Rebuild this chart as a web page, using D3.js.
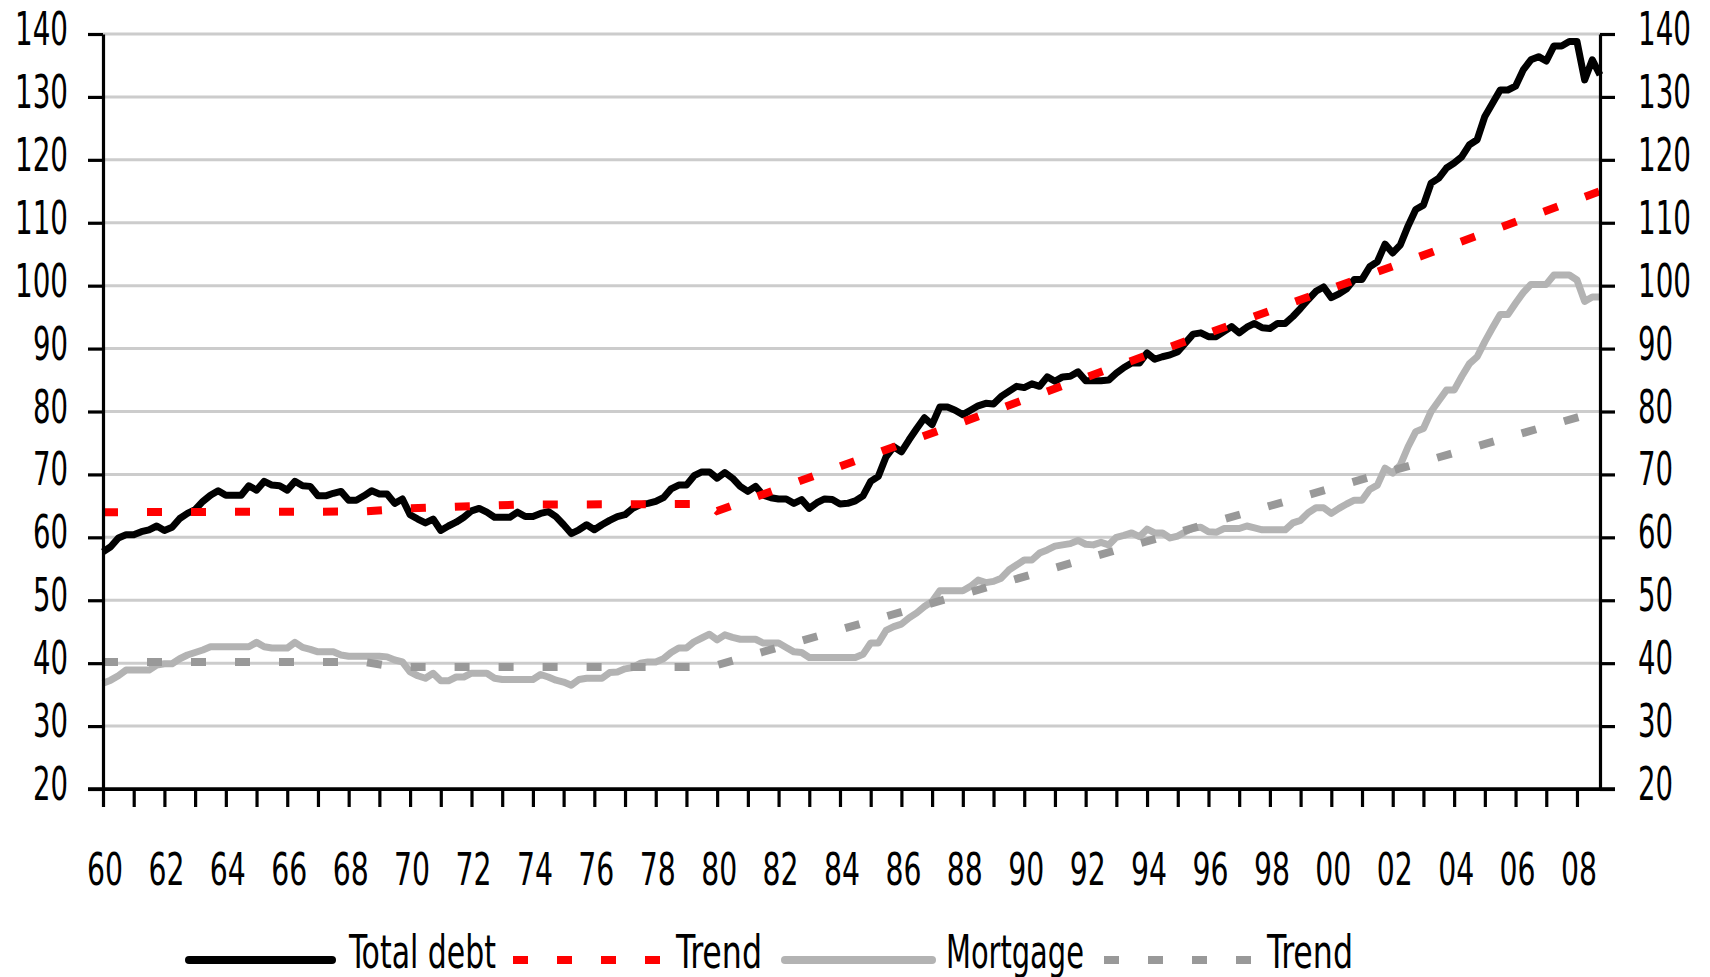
<!DOCTYPE html>
<html>
<head>
<meta charset="utf-8">
<script src="https://cdn.jsdelivr.net/npm/d3@7"></script>
<style>
  body { margin: 0; background: #fff; }
  text { font-family: "Liberation Sans Narrow", "Arial Narrow", "DejaVu Sans Condensed", sans-serif; fill: #000; }
</style>
</head>
<body>
<div id="chart"></div>
<script>
// quarterly, 1960Q1 .. 2008Q4
var debt = [
  57.7, 58.5, 59.9, 60.4,
  60.4, 60.9, 61.2, 61.8,
  61.1, 61.6, 63.0, 63.8,
  64.4, 65.7, 66.7, 67.4,
  66.7, 66.7, 66.7, 68.2,
  67.5, 68.9, 68.3, 68.2,
  67.5, 68.9, 68.2, 68.1,
  66.6, 66.6, 67.0, 67.3,
  65.9, 65.9, 66.6, 67.4,
  66.9, 66.9, 65.4, 66.1,
  63.6, 62.9, 62.3, 62.9,
  61.1, 61.8, 62.4, 63.2,
  64.2, 64.6, 64.0, 63.2,
  63.2, 63.2, 64.0, 63.3,
  63.3, 63.8, 64.1, 63.3,
  62.0, 60.6, 61.2, 62.0,
  61.2, 62.0, 62.7, 63.3,
  63.6, 64.6, 65.2, 65.4,
  65.7, 66.3, 67.7, 68.3,
  68.3, 69.8, 70.4, 70.4,
  69.4, 70.3, 69.4, 68.1,
  67.3, 68.1, 66.7, 66.3,
  66.1, 66.1, 65.4, 66.0,
  64.6, 65.5, 66.1, 66.0,
  65.3, 65.4, 65.8, 66.6,
  68.9, 69.7, 72.8, 74.4,
  73.6, 75.5, 77.3, 79.0,
  77.9, 80.7, 80.7, 80.2,
  79.5, 80.2, 80.9, 81.3,
  81.2, 82.4, 83.2, 84.0,
  83.8, 84.4, 84.0, 85.5,
  84.8, 85.5, 85.6, 86.3,
  84.9, 84.9, 84.9, 85.0,
  86.1, 87.0, 87.7, 87.7,
  89.3, 88.3, 88.7, 89.0,
  89.5, 90.9, 92.3, 92.5,
  91.9, 91.9, 92.7, 93.5,
  92.5, 93.4, 94.0, 93.3,
  93.2, 94.0, 94.0, 95.1,
  96.4, 97.8, 99.1, 99.8,
  98.1, 98.7, 99.5, 101.0,
  101.0, 103.0, 103.8, 106.6,
  105.2, 106.5, 109.5, 112.1,
  112.8, 116.3, 117.1, 118.7,
  119.5, 120.5, 122.4, 123.2,
  126.9, 129.0, 131.1, 131.1,
  131.7, 134.3, 135.9, 136.4,
  135.7, 138.1, 138.1, 138.8,
  138.8, 132.7, 135.9, 133.5
]

var mortgage = [
  36.8, 37.3, 38.0, 38.9,
  38.9, 38.9, 38.9, 39.7,
  39.9, 39.9, 40.7, 41.3,
  41.7, 42.1, 42.6, 42.6,
  42.6, 42.6, 42.6, 42.6,
  43.3, 42.6, 42.4, 42.4,
  42.4, 43.3, 42.5, 42.2,
  41.8, 41.8, 41.8, 41.3,
  41.1, 41.1, 41.1, 41.1,
  41.1, 41.0, 40.5, 40.2,
  38.6, 38.0, 37.6, 38.4,
  37.2, 37.2, 37.8, 37.8,
  38.4, 38.4, 38.4, 37.6,
  37.4, 37.4, 37.4, 37.4,
  37.4, 38.2, 37.8, 37.3,
  37.0, 36.5, 37.4, 37.6,
  37.6, 37.6, 38.5, 38.6,
  39.1, 39.3, 40.0, 40.2,
  40.2, 40.7, 41.7, 42.4,
  42.4, 43.4, 44.0, 44.6,
  43.7, 44.5, 44.1, 43.8,
  43.8, 43.8, 43.2, 43.2,
  43.2, 42.5, 41.8, 41.7,
  40.9, 40.9, 40.9, 40.9,
  40.9, 40.9, 40.9, 41.4,
  43.2, 43.2, 45.2, 45.8,
  46.2, 47.2, 48.0, 49.0,
  49.8, 51.5, 51.5, 51.5,
  51.5, 52.2, 53.2, 52.8,
  53.0, 53.5, 54.8, 55.6,
  56.4, 56.4, 57.5, 58.0,
  58.6, 58.8, 59.0, 59.5,
  58.9, 58.8, 59.2, 58.8,
  60.0, 60.3, 60.7, 60.1,
  61.3, 60.7, 60.7, 59.9,
  60.2, 60.9, 61.5, 61.6,
  60.9, 60.8, 61.4, 61.4,
  61.4, 61.8, 61.5, 61.2,
  61.2, 61.2, 61.2, 62.3,
  62.7, 63.9, 64.7, 64.7,
  63.8, 64.6, 65.3, 65.9,
  65.9, 67.6, 68.3, 71.0,
  70.2, 71.5, 74.4, 76.8,
  77.3, 80.0, 81.7, 83.4,
  83.4, 85.6, 87.6, 88.7,
  91.1, 93.3, 95.4, 95.4,
  97.2, 98.9, 100.2, 100.2,
  100.2, 101.7, 101.7, 101.7,
  100.9, 97.5, 98.2, 98.2
]

// trend lines (points where the trend changes course)
var debtTrendYears  = [1960, 1968.5, 1970, 1973.5, 1979.75, 1980, 2008.75]
var debtTrendValues = [64.0, 64.1, 64.6, 65.2, 65.3, 64.2, 115.0]
var mortTrendYears  = [1960, 1968.5, 1969.5, 1979.75, 1980, 2008.75]
var mortTrendValues = [40.2, 40.2, 39.4, 39.4, 39.7, 80.1]

var yTicks = [20, 30, 40, 50, 60, 70, 80, 90, 100, 110, 120, 130, 140]
var xTickYears = d3.range(1960, 2009)
var xLabels = ["60","62","64","66","68","70","72","74","76","78","80","82","84",
               "86","88","90","92","94","96","98","00","02","04","06","08"]
var legendNames = ["Total debt", "Trend", "Mortgage", "Trend"]

var quarters = debt.map(function(d, i) { return 1960 + i / 4 })

var W = 1710, H = 977
var plotL = 103, plotR = 1600, plotT = 34, plotB = 789

var svg = d3.select("#chart").append("svg")
    .attr("width", W)
    .attr("height", H)

svg.append("rect").attr("width", W).attr("height", H).attr("fill", "#fff")

var x = d3.scaleLinear().domain([1960, 2008.75]).range([plotL, plotR])
var y = d3.scaleLinear().domain([20, 140]).range([plotB, plotT])

// gridlines
svg.append("g")
  .selectAll("line")
  .data(yTicks.filter(function(d) { return d > 20 }))
  .join("line")
    .attr("x1", plotL).attr("x2", plotR)
    .attr("y1", function(d) { return y(d) })
    .attr("y2", function(d) { return y(d) })
    .attr("stroke", "#cccccc")
    .attr("stroke-width", 3)

var line = d3.line()
    .x(function(d) { return x(d[0]) })
    .y(function(d) { return y(d[1]) })

var dashed = "15 29"

// Total debt
svg.append("path")
    .datum(quarters.map(function(q, i) { return [q, debt[i]] }))
    .attr("fill", "none")
    .attr("stroke", "#000")
    .attr("stroke-width", 7)
    .attr("stroke-linejoin", "round")
    .attr("d", line)

// Trend (debt)
svg.append("path")
    .datum(debtTrendYears.map(function(t, i) { return [t, debtTrendValues[i]] }))
    .attr("fill", "none")
    .attr("stroke", "#ff0000")
    .attr("stroke-width", 8)
    .attr("stroke-dasharray", dashed)
    .attr("d", line)

// Mortgage
svg.append("path")
    .datum(quarters.map(function(q, i) { return [q, mortgage[i]] }))
    .attr("fill", "none")
    .attr("stroke", "#b3b3b3")
    .attr("stroke-width", 7)
    .attr("stroke-linejoin", "round")
    .attr("d", line)

// Trend (mortgage)
svg.append("path")
    .datum(mortTrendYears.map(function(t, i) { return [t, mortTrendValues[i]] }))
    .attr("fill", "none")
    .attr("stroke", "#999999")
    .attr("stroke-width", 8)
    .attr("stroke-dasharray", dashed)
    .attr("d", line)

// Axes
svg.append("g")
    .attr("transform", "translate(" + plotL + ",0)")
    .call(d3.axisLeft(y).tickValues(yTicks).tickSize(15).tickFormat("").tickSizeOuter(0))
svg.append("g")
    .attr("transform", "translate(" + plotR + ",0)")
    .call(d3.axisRight(y).tickValues(yTicks).tickSize(15).tickFormat("").tickSizeOuter(0))
svg.append("g")
    .attr("transform", "translate(0," + plotB + ")")
    .call(d3.axisBottom(x).tickValues(xTickYears).tickSize(18).tickFormat("").tickSizeOuter(0))

svg.selectAll(".domain").attr("stroke", "#000").attr("stroke-width", 3.2)
svg.selectAll(".tick line").attr("stroke", "#000").attr("stroke-width", 3.2)
// the x axis line runs from the left tick to the right tick
svg.append("line")
    .attr("x1", plotL - 15).attr("x2", plotR + 15)
    .attr("y1", plotB).attr("y2", plotB)
    .attr("stroke", "#000").attr("stroke-width", 3.4)

// text squeezed to the narrow width of the original font
function label(g, tx, ty, str, anchor, size, width) {
  var t = g.append("text")
    .attr("text-anchor", anchor)
    .attr("font-size", size + "px")
    .text(str)
  var len = t.node().getComputedTextLength()
  var k = len > 0 ? width / len : 1
  t.attr("transform", "translate(" + tx + "," + ty + ") scale(" + k + ",1)")
}

var lab = svg.append("g")
yTicks.forEach(function(v) {
  var w = String(v).length * 18
  label(lab, 68, y(v) + 11, v, "end", 46, w - 1)
  label(lab, 1638, y(v) + 11, v, "start", 46, w - 1)
})
xLabels.forEach(function(s, i) {
  label(lab, x(1960 + i * 2) + 2, 885, s, "middle", 45, 36)
})

// legend
var leg = svg.append("g")
var ly = 960, lb = 968
leg.append("line").attr("x1", 189).attr("x2", 332).attr("y1", ly).attr("y2", ly)
    .attr("stroke", "#000").attr("stroke-width", 8).attr("stroke-linecap", "round")
label(leg, 349, lb, legendNames[0], "start", 46, 147)
leg.append("line").attr("x1", 513).attr("x2", 660).attr("y1", ly).attr("y2", ly)
    .attr("stroke", "#ff0000").attr("stroke-width", 8).attr("stroke-dasharray", dashed)
label(leg, 676, lb, legendNames[1], "start", 46, 86)
leg.append("line").attr("x1", 785).attr("x2", 932).attr("y1", ly).attr("y2", ly)
    .attr("stroke", "#b3b3b3").attr("stroke-width", 8).attr("stroke-linecap", "round")
label(leg, 946, lb, legendNames[2], "start", 46, 138)
leg.append("line").attr("x1", 1104).attr("x2", 1251).attr("y1", ly).attr("y2", ly)
    .attr("stroke", "#999999").attr("stroke-width", 8).attr("stroke-dasharray", dashed)
label(leg, 1267, lb, legendNames[3], "start", 46, 86)
</script>
</body>
</html>
